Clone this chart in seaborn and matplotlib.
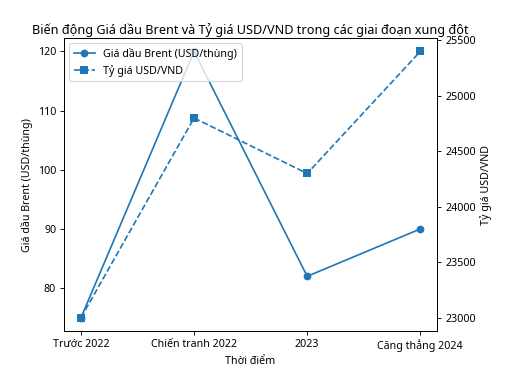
import pandas as pd
import matplotlib
matplotlib.use("Agg")
import matplotlib.pyplot as plt
import seaborn as sns

# Data
periods = ["Trước 2022", "Chiến tranh 2022", "2023", "Căng thẳng 2024"]
brent_price = [75, 120, 82, 90]
usd_vnd = [23000, 24800, 24300, 25400]

df = pd.DataFrame({"period": periods, "brent": brent_price, "usdvnd": usd_vnd})

plt.rcParams["font.family"] = ["Noto Sans", "DejaVu Sans"]
plt.rcParams["font.size"] = 9.6

fig, ax = plt.subplots(figsize=(6.4, 4.8625), dpi=80)
fig.subplots_adjust(left=0.125, right=0.854, top=0.902, bottom=0.149)

sns.lineplot(data=df, x="period", y="brent", marker="o", color="C0",
             sort=False, ax=ax, label="Giá dầu Brent (USD/thùng)", legend=False,
             markeredgewidth=0, markersize=7)
ax.set_xlabel("Thời điểm")
ax.set_ylabel("Giá dầu Brent (USD/thùng)")

ax2 = ax.twinx()
sns.lineplot(data=df, x="period", y="usdvnd", marker="s", color="C0",
             linestyle="--", sort=False, ax=ax2, label="Tỷ giá USD/VND", legend=False,
             markeredgewidth=0, markersize=7)
ax2.set_ylabel("Tỷ giá USD/VND")

# Combined legend
h1, l1 = ax.get_legend_handles_labels()
h2, l2 = ax2.get_legend_handles_labels()
ax.legend(h1 + h2, l1 + l2, loc="upper left")

ax.set_title("Biến động Giá dầu Brent và Tỷ giá USD/VND trong các giai đoạn xung đột",
             fontsize=11.4, pad=4)

plt.savefig("out.png", dpi=80)
